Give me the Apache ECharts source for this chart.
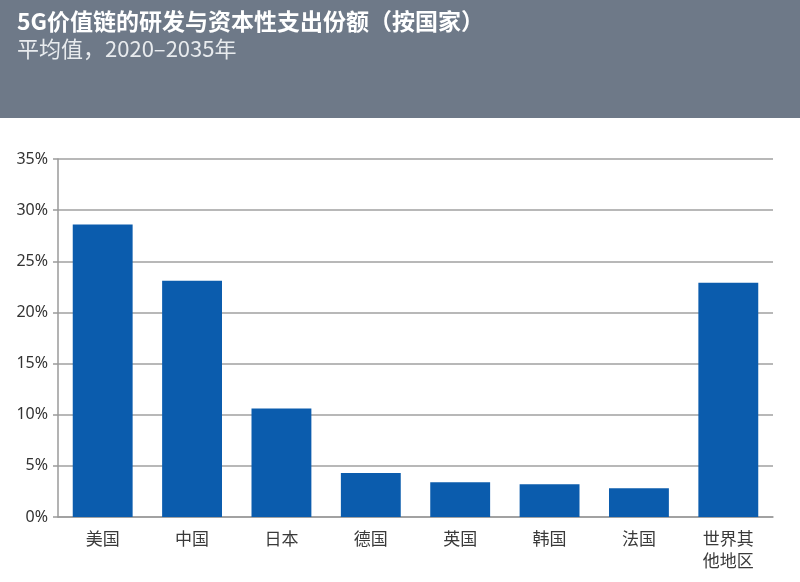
<!DOCTYPE html>
<html>
<head>
<meta charset="utf-8">
<script src="https://cdn.jsdelivr.net/npm/echarts@6/dist/echarts.min.js"></script>
<style>
  html, body { margin: 0; padding: 0; background: #fff; }
  #chart { width: 800px; height: 582px; }
</style>
</head>
<body>
<div id="chart"></div>
<script>
// 数据
const countries = ['美国', '中国', '日本', '德国', '英国', '韩国', '法国', '世界其\n他地区'];
const shares = [28.6, 23.1, 10.6, 4.3, 3.4, 3.2, 2.8, 22.9];

const myChart = echarts.init(document.getElementById('chart'));

myChart.setOption({
  animation: false,
  graphic: [
    {
      type: 'rect',
      shape: { x: 0, y: 0, width: 800, height: 118 },
      style: { fill: '#6e7988' },
      z: -1,
    },
  ],
  title: {
    text: '5G价值链的研发与资本性支出份额（按国家）',
    subtext: '平均值，2020–2035年',
    left: 12,
    top: 5,
    itemGap: 5,
    textStyle: {
      color: '#ffffff',
      fontSize: 23,
      fontWeight: 'bold',
      fontFamily: 'Noto Sans CJK SC',
    },
    subtextStyle: {
      color: '#e8ebee',
      fontSize: 22,
      fontFamily: 'Noto Sans CJK SC',
    },
  },
  grid: {
    left: 58,
    right: 27,
    top: 159,
    bottom: 65,
    containLabel: false,
  },
  xAxis: {
    type: 'category',
    data: countries,
    axisLine: {
      lineStyle: { color: '#9a9a9a', width: 1.5 },
    },
    axisTick: {
      length: 5,
      lineStyle: { color: '#9a9a9a', width: 1.5 },
    },
    axisLabel: {
      margin: 11,
      fontSize: 17,
      lineHeight: 22,
      color: '#3a3a3a',
      fontFamily: 'Noto Sans CJK SC',
    },
  },
  yAxis: {
    type: 'value',
    min: 0,
    max: 35,
    interval: 5,
    axisLine: {
      show: true,
      lineStyle: { color: '#9a9a9a', width: 1.5 },
    },
    axisTick: {
      show: true,
      inside: false,
      length: 5,
      lineStyle: { color: '#9a9a9a', width: 1.5 },
    },
    splitLine: {
      lineStyle: { color: '#a0a0a0', width: 1.5 },
    },
    axisLabel: {
      margin: 10,
      fontSize: 16,
      color: '#333',
      fontFamily: 'Noto Sans',
      formatter: '{value}%',
    },
  },
  series: [
    {
      type: 'bar',
      data: shares,
      barCategoryGap: '33%',
      itemStyle: { color: '#0b5cad' },
    },
  ],
});
</script>
</body>
</html>
